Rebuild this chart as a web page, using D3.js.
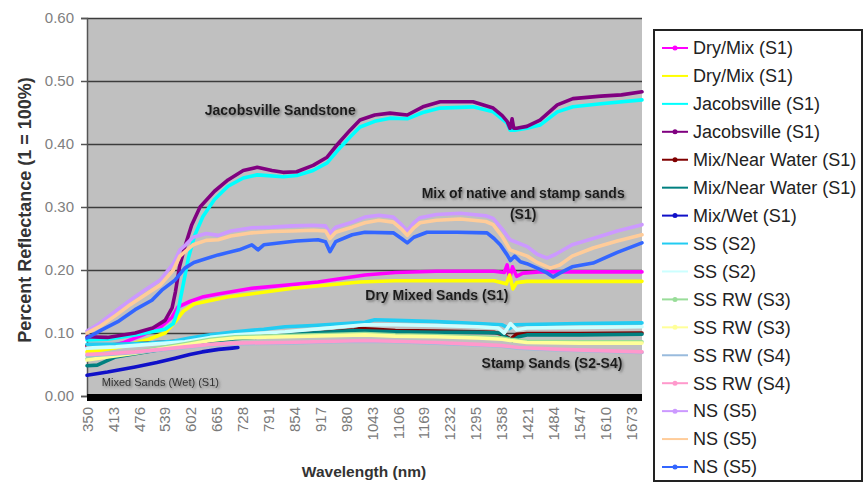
<!DOCTYPE html>
<html>
<head>
<meta charset="utf-8">
<script src="https://cdn.jsdelivr.net/npm/d3@7/dist/d3.min.js"></script>
<style>
  html, body { margin: 0; padding: 0; background: #fff; }
  svg { display: block; font-family: Arial, "Liberation Sans", sans-serif; }
</style>
</head>
<body>
<svg id="chart" width="865" height="491"></svg>
<script>
// Reflectance spectra: [wavelength nm, reflectance (1 = 100%)]
const dryMixMagenta = [[350,0.078],[400,0.078],[440,0.085],[486,0.097],[530,0.110],[557,0.125],[571,0.141],[600,0.150],[630,0.157],[669,0.162],[751,0.171],[850,0.177],[912,0.181],[1026,0.192],[1100,0.196],[1200,0.198],[1340,0.198],[1365,0.196],[1372,0.208],[1378,0.186],[1385,0.205],[1395,0.190],[1410,0.195],[1450,0.197],[1550,0.197],[1700,0.197]];
const dryMixYellow = [[350,0.070],[406,0.075],[447,0.080],[500,0.090],[540,0.100],[565,0.118],[585,0.135],[610,0.146],[691,0.157],[851,0.171],[1014,0.181],[1100,0.183],[1340,0.183],[1370,0.178],[1378,0.192],[1386,0.170],[1395,0.180],[1420,0.182],[1700,0.182]];
const jacobsCyan = [[350,0.089],[400,0.090],[467,0.097],[540,0.106],[560,0.115],[572,0.137],[585,0.180],[597,0.220],[612,0.255],[632,0.285],[660,0.312],[693,0.333],[730,0.346],[764,0.351],[827,0.348],[860,0.350],[900,0.358],[934,0.370],[960,0.390],[990,0.411],[1014,0.427],[1050,0.436],[1087,0.441],[1129,0.440],[1167,0.450],[1209,0.457],[1289,0.459],[1338,0.451],[1372,0.433],[1379,0.422],[1391,0.422],[1420,0.425],[1452,0.430],[1494,0.451],[1532,0.459],[1600,0.464],[1700,0.470]];
const jacobsPurple = [[350,0.094],[400,0.093],[467,0.100],[510,0.108],[540,0.120],[557,0.140],[565,0.165],[575,0.205],[588,0.237],[605,0.272],[625,0.300],[660,0.325],[693,0.343],[730,0.358],[764,0.363],[800,0.358],[827,0.355],[860,0.356],[900,0.366],[934,0.379],[960,0.400],[990,0.422],[1014,0.438],[1050,0.446],[1087,0.449],[1129,0.446],[1167,0.459],[1209,0.467],[1289,0.467],[1338,0.457],[1360,0.445],[1372,0.436],[1379,0.425],[1384,0.440],[1388,0.425],[1395,0.425],[1420,0.428],[1452,0.438],[1494,0.462],[1532,0.472],[1600,0.476],[1650,0.478],[1700,0.483]];
const nearWaterRed = [[350,0.080],[450,0.082],[550,0.086],[650,0.091],[750,0.095],[850,0.098],[912,0.100],[1000,0.105],[1014,0.107],[1050,0.106],[1100,0.104],[1200,0.103],[1300,0.102],[1340,0.101],[1365,0.097],[1380,0.090],[1395,0.098],[1420,0.099],[1550,0.099],[1700,0.100]];
const nearWaterTeal = [[350,0.048],[375,0.049],[395,0.055],[420,0.062],[467,0.067],[530,0.074],[588,0.080],[650,0.087],[710,0.091],[800,0.095],[850,0.098],[897,0.100],[950,0.102],[1000,0.104],[1100,0.102],[1200,0.101],[1300,0.101],[1355,0.100],[1370,0.093],[1385,0.088],[1400,0.094],[1420,0.097],[1550,0.097],[1700,0.098]];
const mixWet = [[350,0.033],[400,0.038],[467,0.046],[520,0.053],[564,0.060],[600,0.066],[630,0.070],[670,0.074],[703,0.076],[717,0.077]];
const ssS2Cyan = [[350,0.082],[420,0.082],[500,0.084],[560,0.087],[600,0.092],[650,0.097],[710,0.102],[780,0.106],[832,0.110],[900,0.112],[1026,0.117],[1050,0.121],[1100,0.120],[1200,0.118],[1300,0.115],[1360,0.113],[1378,0.107],[1390,0.113],[1450,0.114],[1550,0.115],[1700,0.116]];
const ssS2Pale = [[350,0.076],[420,0.078],[500,0.082],[588,0.086],[650,0.093],[710,0.097],[780,0.100],[832,0.102],[900,0.106],[1026,0.113],[1100,0.113],[1200,0.112],[1300,0.110],[1350,0.108],[1365,0.100],[1380,0.115],[1395,0.105],[1420,0.108],[1550,0.109],[1700,0.110]];
const ssRwS3Green = [[350,0.059],[400,0.064],[467,0.070],[530,0.077],[588,0.083],[650,0.090],[710,0.094],[832,0.096],[1026,0.099],[1100,0.097],[1200,0.096],[1300,0.094],[1360,0.092],[1380,0.090],[1420,0.087],[1550,0.086],[1700,0.086]];
const ssRwS3Yellow = [[350,0.057],[400,0.062],[467,0.068],[530,0.075],[588,0.081],[650,0.088],[710,0.092],[832,0.094],[1026,0.097],[1100,0.095],[1200,0.094],[1300,0.092],[1360,0.090],[1380,0.088],[1420,0.085],[1550,0.084],[1700,0.084]];
const ssRwS4Blue = [[350,0.064],[400,0.066],[467,0.069],[530,0.073],[588,0.077],[650,0.081],[710,0.083],[832,0.084],[950,0.086],[1026,0.087],[1100,0.086],[1200,0.084],[1300,0.081],[1360,0.079],[1400,0.076],[1500,0.073],[1600,0.071],[1700,0.069]];
const ssRwS4Pink = [[350,0.066],[400,0.067],[467,0.070],[530,0.074],[588,0.078],[650,0.082],[710,0.084],[832,0.085],[950,0.087],[1026,0.088],[1100,0.087],[1200,0.085],[1300,0.082],[1360,0.080],[1400,0.077],[1500,0.074],[1600,0.072],[1700,0.070]];
const nsLavender = [[350,0.103],[380,0.115],[420,0.135],[455,0.152],[490,0.168],[528,0.184],[560,0.210],[576,0.232],[590,0.240],[608,0.252],[640,0.258],[669,0.255],[700,0.262],[751,0.267],[800,0.268],[850,0.270],[900,0.271],[930,0.270],[941,0.258],[955,0.268],[995,0.276],[1026,0.284],[1060,0.287],[1095,0.284],[1115,0.272],[1129,0.262],[1145,0.275],[1160,0.283],[1200,0.288],[1258,0.290],[1320,0.286],[1338,0.282],[1360,0.265],[1379,0.248],[1421,0.237],[1445,0.225],[1469,0.219],[1490,0.225],[1530,0.240],[1581,0.250],[1640,0.262],[1700,0.272]];
const nsTan = [[350,0.100],[380,0.110],[420,0.128],[455,0.145],[490,0.160],[528,0.176],[560,0.200],[576,0.222],[590,0.230],[608,0.240],[640,0.247],[669,0.248],[700,0.254],[751,0.259],[800,0.261],[850,0.262],[900,0.263],[930,0.262],[941,0.250],[955,0.260],[995,0.268],[1026,0.275],[1060,0.279],[1095,0.276],[1115,0.265],[1129,0.255],[1145,0.267],[1160,0.275],[1200,0.279],[1258,0.281],[1320,0.277],[1338,0.272],[1360,0.253],[1379,0.232],[1421,0.222],[1445,0.212],[1477,0.203],[1500,0.208],[1530,0.222],[1581,0.235],[1640,0.246],[1700,0.256]];
const nsBlue = [[350,0.092],[386,0.105],[425,0.118],[467,0.137],[508,0.152],[532,0.168],[564,0.184],[588,0.203],[610,0.212],[669,0.224],[720,0.232],[751,0.240],[766,0.232],[780,0.240],[832,0.244],[860,0.246],[912,0.248],[930,0.245],[941,0.229],[955,0.245],[995,0.256],[1026,0.260],[1095,0.259],[1115,0.250],[1129,0.243],[1145,0.252],[1177,0.260],[1250,0.260],[1323,0.259],[1340,0.250],[1355,0.240],[1372,0.224],[1380,0.215],[1390,0.222],[1404,0.213],[1420,0.210],[1445,0.203],[1470,0.195],[1484,0.189],[1500,0.195],[1530,0.205],[1581,0.211],[1640,0.228],[1700,0.243]];

const seriesNames = ["Dry/Mix (S1)","Dry/Mix (S1)","Jacobsville (S1)","Jacobsville (S1)","Mix/Near Water (S1)","Mix/Near Water (S1)","Mix/Wet (S1)","SS (S2)","SS (S2)","SS RW (S3)","SS RW (S3)","SS RW (S4)","SS RW (S4)","NS (S5)","NS (S5)","NS (S5)"];
const seriesValues = [dryMixMagenta, dryMixYellow, jacobsCyan, jacobsPurple, nearWaterRed, nearWaterTeal, mixWet, ssS2Cyan, ssS2Pale, ssRwS3Green, ssRwS3Yellow, ssRwS4Blue, ssRwS4Pink, nsLavender, nsTan, nsBlue];

const xTickLabels = [350,413,476,539,602,665,728,791,854,917,980,1043,1106,1169,1232,1295,1358,1421,1484,1547,1610,1673];
const yTickLabels = [0,0.1,0.2,0.3,0.4,0.5,0.6];

// Text callouts anchored in data units: [text, wavelength, reflectance]
const callouts = [
  ["Jacobsville Sandstone", 820, 0.446],
  ["Mix of native and stamp sands", 1411, 0.314],
  ["(S1)", 1411, 0.281],
  ["Dry Mixed Sands (S1)", 1201, 0.152],
  ["Stamp Sands (S2-S4)", 1481, 0.044]
];
const smallCallouts = [["Mixed Sands (Wet) (S1)", 386, 0.016]];

// Styling
const colors = ["#ff00ff","#ffff00","#00ffff","#800080","#800000","#008080","#1010c8","#22ccf2","#ccffff","#99dd99","#ffff99","#99bbdd","#ff99cc","#cc99ff","#ffcc99","#3366ff"];
const withMarker = [true,false,false,true,true,false,true,false,false,true,true,false,true,true,false,true];

const svg = d3.select("#chart");
const plot = { left: 87, right: 642, top: 18, bottom: 396 };

const x = d3.scaleLinear().domain([350, 1700]).range([plot.left, plot.right]);
const y = d3.scaleLinear().domain([0, 0.6]).range([plot.bottom, plot.top]);

const defs = svg.append("defs");
const shadow = defs.append("filter").attr("id", "soft").attr("x", "-10%").attr("y", "-30%").attr("width", "130%").attr("height", "180%");
shadow.append("feDropShadow").attr("dx", 1.5).attr("dy", 1.5).attr("stdDeviation", 1.2)
  .attr("flood-color", "#555").attr("flood-opacity", 0.7);

// plot background
svg.append("rect")
  .attr("x", plot.left).attr("y", plot.top)
  .attr("width", plot.right - plot.left).attr("height", plot.bottom - plot.top)
  .attr("fill", "#c0c0c0");

// horizontal grid
svg.append("g")
  .attr("transform", `translate(${plot.left},0)`)
  .call(d3.axisLeft(y).tickValues(yTickLabels.slice(1)).tickSize(-(plot.right - plot.left)).tickFormat(""))
  .call(g => g.select(".domain").remove())
  .call(g => g.selectAll("line").attr("stroke", "#3c3c3c").attr("stroke-width", 1.6));

// y axis
const yAxis = svg.append("g")
  .attr("transform", `translate(${plot.left},0)`)
  .call(d3.axisLeft(y).tickValues(yTickLabels).tickSize(6).tickPadding(7).tickFormat(d3.format(".2f")));
yAxis.select(".domain").attr("stroke", "#555").attr("stroke-width", 1.5);
yAxis.selectAll("line").attr("stroke", "#555").attr("stroke-width", 1.5);
yAxis.selectAll("text").attr("fill", "#808080").attr("font-size", 15).attr("font-family", "Arial, 'Liberation Sans', sans-serif");

// series lines
const line = d3.line().x(d => x(d[0])).y(d => y(d[1])).curve(d3.curveLinear);
svg.append("g")
  .selectAll("path")
  .data(seriesValues)
  .join("path")
  .attr("d", line)
  .attr("fill", "none")
  .attr("stroke", (d, i) => colors[i])
  .attr("stroke-width", 3.6)
  .attr("stroke-linejoin", "round")
  .attr("stroke-linecap", "round");

// x axis band and tick labels
svg.append("rect")
  .attr("x", plot.left).attr("y", plot.bottom - 2)
  .attr("width", plot.right - plot.left).attr("height", 7)
  .attr("fill", "#000");

const xAxis = svg.append("g")
  .attr("transform", `translate(0,${plot.bottom + 5})`)
  .call(d3.axisBottom(x).tickValues(xTickLabels).tickSize(0).tickFormat(d3.format("d")));
xAxis.select(".domain").remove();
xAxis.selectAll("text")
  .attr("fill", "#7a7a7a")
  .attr("font-size", 15)
  .attr("font-family", "Arial, 'Liberation Sans', sans-serif")
  .attr("text-anchor", "end")
  .attr("transform", "rotate(-90)")
  .attr("x", -6).attr("y", 0).attr("dy", "0.35em");

// axis titles
svg.append("text")
  .attr("x", 364).attr("y", 477)
  .attr("text-anchor", "middle")
  .attr("font-size", 15.5).attr("font-weight", "bold").attr("fill", "#333")
  .text("Wavelength (nm)");

svg.append("text")
  .attr("transform", `translate(31,${(plot.top + plot.bottom) / 2 + 3}) rotate(-90)`)
  .attr("text-anchor", "middle")
  .attr("font-size", 18).attr("font-weight", "bold").attr("fill", "#333")
  .text("Percent Reflectance (1 = 100%)");

// callouts
svg.append("g")
  .selectAll("text")
  .data(callouts)
  .join("text")
  .attr("x", d => x(d[1])).attr("y", d => y(d[2]))
  .attr("text-anchor", "middle")
  .attr("font-size", 14).attr("font-weight", "bold").attr("fill", "#1a1a1a")
  .attr("filter", "url(#soft)")
  .text(d => d[0]);

svg.append("g")
  .selectAll("text")
  .data(smallCallouts)
  .join("text")
  .attr("x", d => x(d[1])).attr("y", d => y(d[2]))
  .attr("font-size", 11).attr("fill", "#333")
  .attr("filter", "url(#soft)")
  .text(d => d[0]);

// legend
const legend = svg.append("g");
legend.append("rect")
  .attr("x", 654).attr("y", 30).attr("width", 208).attr("height", 451)
  .attr("fill", "#fff").attr("stroke", "#222").attr("stroke-width", 2);

const rowY = d3.scaleLinear().domain([0, seriesNames.length - 1]).range([48, 467]);
const rows = legend.selectAll("g.row")
  .data(seriesNames)
  .join("g")
  .attr("class", "row")
  .attr("transform", (d, i) => `translate(0,${rowY(i)})`);
rows.append("line")
  .attr("x1", 662).attr("x2", 688)
  .attr("stroke", (d, i) => colors[i]).attr("stroke-width", 2);
rows.each(function (d, i) {
  if (withMarker[i]) {
    d3.select(this).append("circle").attr("cx", 675).attr("r", 2.5).attr("fill", colors[i]);
  }
});
rows.append("text")
  .attr("x", 693).attr("dy", "0.35em")
  .attr("font-size", 18).attr("fill", "#222")
  .text(d => d);
</script>
</body>
</html>
